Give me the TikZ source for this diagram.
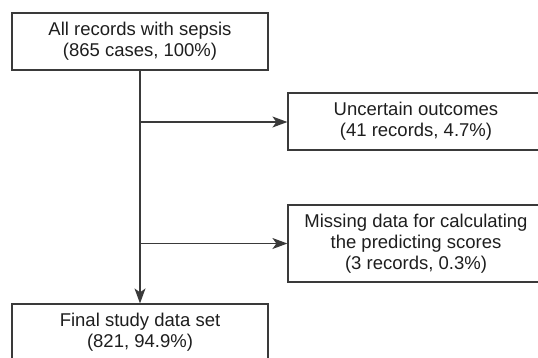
\documentclass[tikz,border=0pt]{standalone}
\usepackage{fontspec}
\setmainfont{Liberation Sans}
\usetikzlibrary{arrows.meta}
\definecolor{linec}{HTML}{3A3A3A}
\definecolor{textc}{HTML}{1E1E1E}
\begin{document}
\begin{tikzpicture}[x=1pt,y=-1pt,
  boxstyle/.style={draw=linec, line width=1.2pt, rectangle, minimum width=256pt, inner sep=0pt, align=center, text=textc, font=\fontsize{18.5}{21}\selectfont},
  conn/.style={draw=linec, line width=1.3pt},
  arr/.style={conn, -{Stealth[length=15pt,width=11pt,inset=4pt]}}]
\useasboundingbox (0,0) rectangle (538,357);
\begin{scope}
\clip (0,0) rectangle (538,357);
\node[boxstyle, minimum height=57pt] (top) at (140,41.5) {All records with sepsis\\(865 cases, 100\%)};
\node[boxstyle, minimum height=57pt] (unc) at (416,121.5) {Uncertain outcomes\\(41 records, 4.7\%)};
\node[boxstyle, minimum height=77pt] (miss) at (416,243.5) {Missing data for calculating\\the predicting scores\\(3 records, 0.3\%)};
\node[boxstyle, minimum height=57pt] (fin) at (140,332.5) {Final study data set\\(821, 94.9\%)};
\coordinate (b1) at (140,122);
\coordinate (b2) at (140,243.5);
\draw[arr] (top.south) -- (fin.north);
\draw[arr] (b1) -- (b1 -| unc.west);
\draw[arr] (b2) -- (b2 -| miss.west);
\end{scope}
\end{tikzpicture}
\end{document}
